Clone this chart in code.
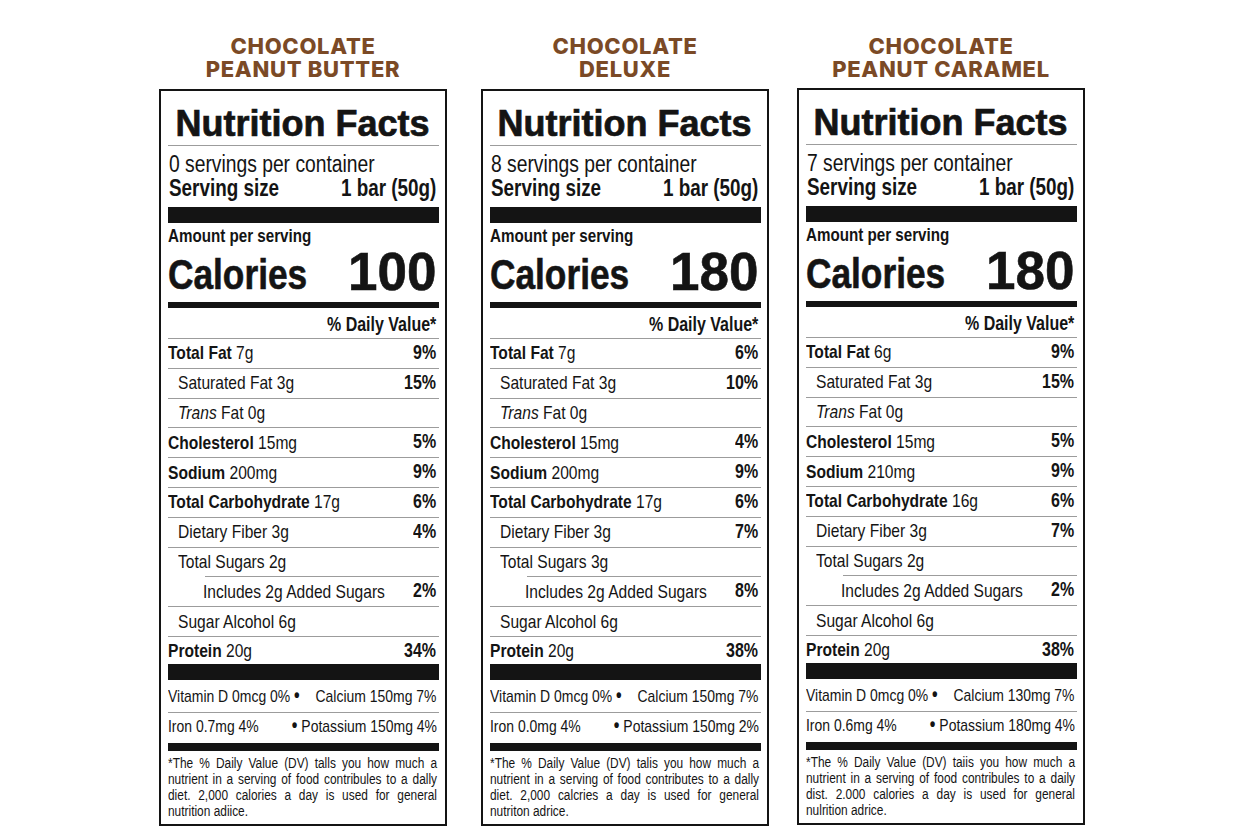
import React from "react";

const productLine1 = ["CHOCOLATE", "CHOCOLATE", "CHOCOLATE"];
const productLine2 = ["PEANUT BUTTER", "DELUXE", "PEANUT CARAMEL"];
const servingsPerContainer = ["0", "8", "7"];
const servingSize = ["1 bar (50g)", "1 bar (50g)", "1 bar (50g)"];
const calories = ["100", "180", "180"];

const nutrientNames = [
  "Total Fat",
  "Saturated Fat",
  "Trans Fat",
  "Cholesterol",
  "Sodium",
  "Total Carbohydrate",
  "Dietary Fiber",
  "Total Sugars",
  "Includes",
  "Sugar Alcohol",
  "Protein",
];
const nutrientLevels = [0, 1, 1, 0, 0, 0, 1, 1, 2, 1, 0];

const amountsA = ["7g", "3g", "0g", "15mg", "200mg", "17g", "3g", "2g", "2g", "6g", "20g"];
const amountsB = ["7g", "3g", "0g", "15mg", "200mg", "17g", "3g", "3g", "2g", "6g", "20g"];
const amountsC = ["6g", "3g", "0g", "15mg", "210mg", "16g", "3g", "2g", "2g", "6g", "20g"];
const amounts = [amountsA, amountsB, amountsC];

const dvA = ["9%", "15%", "", "5%", "9%", "6%", "4%", "", "2%", "", "34%"];
const dvB = ["6%", "10%", "", "4%", "9%", "6%", "7%", "", "8%", "", "38%"];
const dvC = ["9%", "15%", "", "5%", "9%", "6%", "7%", "", "2%", "", "38%"];
const dailyValues = [dvA, dvB, dvC];

const vitaminLeft = ["Vitamin D 0mcg 0%", "Vitamin D 0mcg 0%", "Vitamin D 0mcg 0%"];
const calciumRight = ["Calcium 150mg 7%", "Calcium 150mg 7%", "Calcium 130mg 7%"];
const ironLeft = ["Iron 0.7mg 4%", "Iron 0.0mg 4%", "Iron 0.6mg 4%"];
const potassiumRight = ["Potassium 150mg 4%", "Potassium 150mg 2%", "Potassium 180mg 4%"];

const footnotes = [
  [
    "*The % Daily Value (DV) talls you how much a",
    "nutrient in a serving of food contribules to a dally",
    "diet. 2,000 calories a day is used for general",
    "nutrition adiice.",
  ],
  [
    "*The % Daily Value (DV) talis you how much a",
    "nutrient in a serving of food contributes to a dally",
    "diet. 2,000 calcries a day is used for general",
    "nutriton adrice.",
  ],
  [
    "*The % Daily Value (DV) taiis you how much a",
    "nutrient in a serving of food contribules to a daily",
    "dist. 2.000 calories a day is used for general",
    "nulrition adrice.",
  ],
];

const SANS = '"Liberation Sans", Arial, sans-serif';
const INK = "#141414";
const RULE = "#9c9c9c";
const COND = 0.82;

const boxLefts = [159, 481, 797];
const boxTops = [89, 89, 88];
const BOX_W = 288;
const BOX_H = 737;
const CL = 9;
const CR = 280;
const ROW0 = 250;
const ROW_H = 29.8;

function T(props: {
  x?: number;
  right?: number;
  center?: boolean;
  base: number;
  fs: number;
  weight?: number;
  stroke?: number;
  sx?: number;
  children: React.ReactNode;
}) {
  const { x, right, center, base, fs, weight, stroke, children } = props;
  const sx = props.sx ?? COND;
  const style: React.CSSProperties = {
    position: "absolute",
    top: base - 0.8465 * fs,
    fontSize: fs,
    lineHeight: 1,
    fontFamily: SANS,
    fontWeight: weight || 400,
    whiteSpace: "nowrap",
    color: INK,
  };
  if (stroke) (style as any).WebkitTextStroke = `${stroke}px ${INK}`;
  let origin = "left center";
  if (center) {
    style.left = 0;
    style.width = "100%";
    style.textAlign = "center";
    origin = "center center";
  } else if (right !== undefined) {
    style.right = BOX_W - right;
    style.textAlign = "right";
    origin = "right center";
  } else {
    style.left = x;
  }
  return (
    <div style={style}>
      <span
        style={{
          display: "inline-block",
          transform: `scaleX(${sx})`,
          transformOrigin: origin,
        }}
      >
        {children}
      </span>
    </div>
  );
}

function Bar(props: { top: number; h: number; left?: number; color?: string }) {
  const left = props.left ?? CL;
  return (
    <div
      style={{
        position: "absolute",
        left,
        width: CR - left,
        top: props.top,
        height: props.h,
        background: props.color || INK,
      }}
    />
  );
}

function Title({ text }: { text: string }) {
  return (
    <div
      style={{
        position: "absolute",
        top: 54 - 19.5,
        width: "100%",
        textAlign: "center",
        fontFamily: "Inter, sans-serif",
        fontWeight: 800,
        fontSize: 22,
        lineHeight: "23px",
        color: "#7b4a26",
        letterSpacing: 0.7,
        whiteSpace: "pre",
      }}
    >
      {text}
    </div>
  );
}

const Dot = () => (
  <span style={{ fontWeight: 700, fontSize: "1.15em", lineHeight: 0 }}>•</span>
);

function Label({ i }: { i: number }) {
  const rows = nutrientNames.map((name, r) => {
    const lvl = nutrientLevels[r];
    const top = ROW0 + r * ROW_H;
    const base = top + 21;
    const x = lvl === 0 ? CL : lvl === 1 ? 19 : 44;
    let content: React.ReactNode;
    if (lvl === 0) {
      content = (
        <>
          <span style={{ fontWeight: 700 }}>{name}</span> {amounts[i][r]}
        </>
      );
    } else if (name === "Trans Fat") {
      content = (
        <>
          <i>Trans</i> Fat {amounts[i][r]}
        </>
      );
    } else if (name === "Includes") {
      content = <>Includes {amounts[i][r]} Added Sugars</>;
    } else {
      content = (
        <>
          {name} {amounts[i][r]}
        </>
      );
    }
    const lineLeft = name === "Includes" ? 46 : CL;
    return (
      <React.Fragment key={r}>
        {r > 0 && <Bar top={top - 0.5} h={1} left={lineLeft} color={RULE} />}
        <T x={x} base={base} fs={19}>
          {content}
        </T>
        {dailyValues[i][r] && (
          <T right={CR - 2} base={base} fs={19.5} weight={700}>
            {dailyValues[i][r]}
          </T>
        )}
      </React.Fragment>
    );
  });

  const FN_SX = 0.85;
  return (
    <>
      <div
        style={{
          position: "absolute",
          left: boxLefts[i] - 40,
          width: BOX_W + 80,
          top: 0,
          height: 89,
        }}
      >
        <Title text={`${productLine1[i]}\n${productLine2[i]}`} />
      </div>
      <div
        style={{
          position: "absolute",
          left: boxLefts[i],
          top: boxTops[i],
          width: BOX_W,
          height: BOX_H,
          boxSizing: "border-box",
          border: `2.5px solid ${INK}`,
          background: "#fff",
        }}
      >
        <div style={{ position: "absolute", left: -2.5, top: -2.5, width: BOX_W, height: BOX_H }}>
          <T center base={48} fs={36} weight={700} stroke={0.7} sx={1}>
            Nutrition Facts
          </T>
          <Bar top={56} h={1} color={RULE} />
          <T x={CL + 1} base={84} fs={23.5}>
            {servingsPerContainer[i]} servings per container
          </T>
          <T x={CL + 1} base={108} fs={23} weight={700}>
            Serving size
          </T>
          <T right={CR - 2} base={108} fs={23} weight={700}>
            {servingSize[i]}
          </T>
          <Bar top={118} h={16} />
          <T x={CL} base={154} fs={18.5} weight={700}>
            Amount per serving
          </T>
          <T x={CL} base={201} fs={43} weight={700} stroke={0.6}>
            Calories
          </T>
          <T right={CR - 2} base={201} fs={53} weight={700} stroke={0.6} sx={1}>
            {calories[i]}
          </T>
          <Bar top={213} h={6} />
          <T right={CR - 2} base={243} fs={19.5} weight={700}>
            % Daily Value*
          </T>
          <Bar top={249.5} h={1} color={RULE} />
          {rows}
          <Bar top={ROW0 + nutrientNames.length * ROW_H - 2} h={16} />
          <T x={CL} base={614} fs={17}>
            {vitaminLeft[i]} <Dot />
          </T>
          <T right={CR - 2} base={614} fs={17}>
            {calciumRight[i]}
          </T>
          <Bar top={623.5} h={1} color={RULE} />
          <T x={CL} base={644} fs={17}>
            {ironLeft[i]}
          </T>
          <T right={CR - 2} base={644} fs={17}>
            <Dot /> {potassiumRight[i]}
          </T>
          <Bar top={654} h={8} />
          <div
            style={{
              position: "absolute",
              left: CL,
              width: (CR - CL - 2) / FN_SX,
              top: 666,
              fontFamily: SANS,
              fontSize: 14,
              lineHeight: "16px",
              color: INK,
              transform: `scaleX(${FN_SX})`,
              transformOrigin: "left top",
            }}
          >
            {footnotes[i].map((line, k) => (
              <div
                key={k}
                style={{
                  textAlign: "justify",
                  textAlignLast: k < 3 ? "justify" : "left",
                }}
              >
                {line}
              </div>
            ))}
          </div>
        </div>
      </div>
    </>
  );
}

export default function App() {
  return (
    <div
      style={{
        position: "absolute",
        left: 0,
        top: 0,
        width: 1248,
        height: 832,
        background: "#fff",
        overflow: "hidden",
      }}
    >
      {[0, 1, 2].map((i) => (
        <Label key={i} i={i} />
      ))}
    </div>
  );
}
